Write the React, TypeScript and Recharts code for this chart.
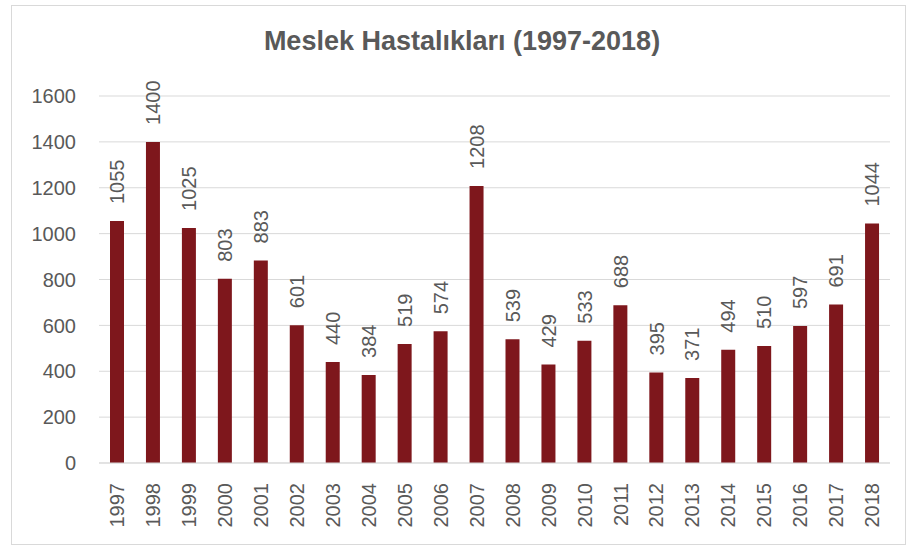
import React from 'react';
import { Bar, BarChart, CartesianGrid, LabelList, XAxis, YAxis } from 'recharts';

const years = [
  '1997', '1998', '1999', '2000', '2001', '2002', '2003', '2004', '2005', '2006', '2007',
  '2008', '2009', '2010', '2011', '2012', '2013', '2014', '2015', '2016', '2017', '2018',
];
const cases = [
  1055, 1400, 1025, 803, 883, 601, 440, 384, 519, 574, 1208,
  539, 429, 533, 688, 395, 371, 494, 510, 597, 691, 1044,
];
const yTicks = [0, 200, 400, 600, 800, 1000, 1200, 1400, 1600];

const font = '"Liberation Sans", Arial, sans-serif';
const gray = '#595959';
const barColor = '#7e171c';

const data = years.map((year, i) => ({ year, value: cases[i] }));

function YearTick(props: any) {
  const { x, y, payload } = props;
  return (
    <text
      x={x}
      y={y + 12}
      dy="0.36em"
      transform={`rotate(-90, ${x}, ${y + 12})`}
      textAnchor="end"
      fontFamily={font}
      fontSize={20}
      fill={gray}
    >
      {payload.value}
    </text>
  );
}

function ValueTick(props: any) {
  const { y, payload } = props;
  return (
    <text x={76} y={y} dy="0.36em" textAnchor="end" fontFamily={font} fontSize={20} fill={gray}>
      {payload.value}
    </text>
  );
}

function BarValue(props: any) {
  const { x, y, width, value } = props;
  const cx = x + width / 2;
  const cy = y - 17;
  return (
    <text
      x={cx}
      y={cy}
      dy="0.36em"
      transform={`rotate(-90, ${cx}, ${cy})`}
      textAnchor="start"
      fontFamily={font}
      fontSize={20}
      fill={gray}
    >
      {value}
    </text>
  );
}

export default function App() {
  return (
    <div style={{ position: 'absolute', left: 0, top: 0, width: 912, height: 551, background: '#fff' }}>
      <div
        style={{
          position: 'absolute',
          left: 11,
          top: 5,
          width: 895,
          height: 540,
          border: '1px solid #d9d9d9',
          boxSizing: 'border-box',
        }}
      />
      <div
        style={{
          position: 'absolute',
          left: 0,
          width: 924,
          top: 26,
          textAlign: 'center',
          fontFamily: font,
          fontWeight: 'bold',
          fontSize: 27,
          color: gray,
        }}
      >
        Meslek Hastalıkları (1997-2018)
      </div>
      <div style={{ position: 'absolute', left: 0, top: 0 }}>
        <BarChart width={912} height={551} data={data} margin={{ top: 96, right: 22, bottom: 0, left: 0 }}>
          <CartesianGrid vertical={false} stroke="#d9d9d9" />
          <XAxis
            dataKey="year"
            interval={0}
            height={88}
            tickLine={false}
            axisLine={{ stroke: '#d9d9d9' }}
            tick={<YearTick />}
          />
          <YAxis
            width={99}
            domain={[0, 1600]}
            ticks={yTicks}
            axisLine={false}
            tickLine={false}
            tick={<ValueTick />}
          />
          <Bar dataKey="value" fill={barColor} barSize={14} isAnimationActive={false}>
            <LabelList dataKey="value" content={<BarValue />} />
          </Bar>
        </BarChart>
      </div>
    </div>
  );
}
